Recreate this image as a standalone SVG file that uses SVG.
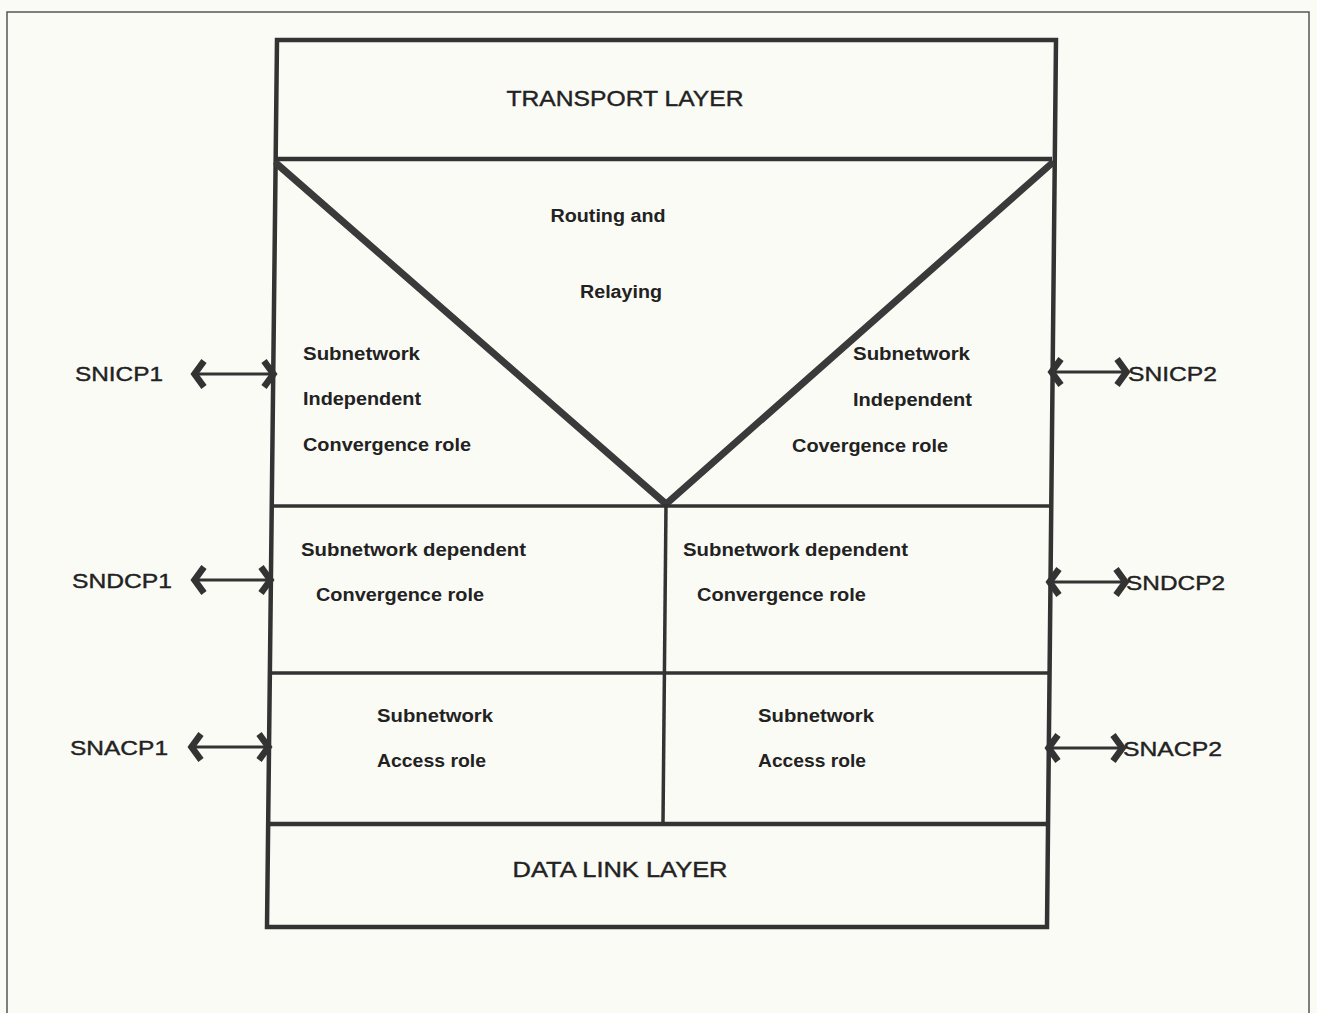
<svg xmlns="http://www.w3.org/2000/svg" width="1317" height="1013" viewBox="0 0 1317 1013">
  <style>
    .frame { fill: none; stroke: #555; stroke-width: 1.5; }
    .box { fill: none; stroke: #333; stroke-width: 4.5; stroke-linejoin: miter; }
    .div { fill: none; stroke: #333; stroke-width: 3.5; }
    .vee { fill: none; stroke: #3a3a3a; stroke-width: 7; stroke-linecap: round; }
    .conn { fill: none; stroke: #333; stroke-width: 3; }
    .ext { font-family: "Liberation Sans", Arial, sans-serif; font-size: 21px; fill: #222; stroke: #222; stroke-width: 0.4; }
    .lay { font-family: "Liberation Sans", Arial, sans-serif; font-size: 22px; fill: #222; stroke: #222; stroke-width: 0.4; }
    .role { font-family: "Liberation Sans", Arial, sans-serif; font-size: 18px; font-weight: bold; fill: #222; }
  </style>
  <defs>
    <!-- thick chevron head used at both ends of each access-point connector -->
    <marker id="chev" viewBox="-18 -16 22 32" markerWidth="22" markerHeight="32" refX="0" refY="0" markerUnits="userSpaceOnUse" orient="auto-start-reverse">
      <path d="M-11,-13 L-1.5,0 L-11,13" fill="none" stroke="#333" stroke-width="6.5" stroke-linejoin="miter"/>
    </marker>
  </defs>

  <rect x="0" y="0" width="1317" height="1013" fill="#fbfbf6"/>

  <!-- page frame -->
  <path class="frame" d="M7,1013 L7,12 L1309,12 L1309,1013"/>

  <!-- stack outline -->
  <g id="stack">
    <path class="box" d="M277,40 L1056,40 L1047,927 L267,927 Z"/>
  </g>

  <g id="transport-layer">
    <line class="box" x1="274" y1="159" x2="1052" y2="159"/>
    <text class="lay" x="625" y="106" text-anchor="middle" textLength="237" lengthAdjust="spacingAndGlyphs">TRANSPORT LAYER</text>
  </g>

  <g id="routing-relaying">
    <path class="vee" d="M277,164 L666,504 L1051,164"/>
    <text class="role" x="608" y="222" text-anchor="middle" textLength="115" lengthAdjust="spacingAndGlyphs">Routing and</text>
    <text class="role" x="621" y="298" text-anchor="middle" textLength="82" lengthAdjust="spacingAndGlyphs">Relaying</text>
  </g>

  <g id="snic-role-1">
    <text class="role" x="303" y="360" textLength="117" lengthAdjust="spacingAndGlyphs">Subnetwork</text>
    <text class="role" x="303" y="405" textLength="118" lengthAdjust="spacingAndGlyphs">Independent</text>
    <text class="role" x="303" y="451" textLength="168" lengthAdjust="spacingAndGlyphs">Convergence role</text>
  </g>

  <g id="snic-role-2">
    <text class="role" x="853" y="360" textLength="117" lengthAdjust="spacingAndGlyphs">Subnetwork</text>
    <text class="role" x="853" y="406" textLength="119" lengthAdjust="spacingAndGlyphs">Independent</text>
    <text class="role" x="792" y="452" textLength="156" lengthAdjust="spacingAndGlyphs">Covergence role</text>
  </g>

  <g id="dividers">
    <line class="div" x1="272" y1="506" x2="1049" y2="506"/>
    <line class="div" x1="666" y1="504" x2="663" y2="823"/>
    <line class="div" x1="270" y1="673" x2="1048" y2="673"/>
    <line class="box" x1="268" y1="824" x2="1048" y2="824"/>
  </g>

  <g id="sndc-role-1">
    <text class="role" x="301" y="556" textLength="225" lengthAdjust="spacingAndGlyphs">Subnetwork dependent</text>
    <text class="role" x="316" y="601" textLength="168" lengthAdjust="spacingAndGlyphs">Convergence role</text>
  </g>

  <g id="sndc-role-2">
    <text class="role" x="683" y="556" textLength="225" lengthAdjust="spacingAndGlyphs">Subnetwork dependent</text>
    <text class="role" x="697" y="601" textLength="169" lengthAdjust="spacingAndGlyphs">Convergence role</text>
  </g>

  <g id="sna-role-1">
    <text class="role" x="377" y="722" textLength="116" lengthAdjust="spacingAndGlyphs">Subnetwork</text>
    <text class="role" x="377" y="767" textLength="109" lengthAdjust="spacingAndGlyphs">Access role</text>
  </g>

  <g id="sna-role-2">
    <text class="role" x="758" y="722" textLength="116" lengthAdjust="spacingAndGlyphs">Subnetwork</text>
    <text class="role" x="758" y="767" textLength="108" lengthAdjust="spacingAndGlyphs">Access role</text>
  </g>

  <g id="data-link-layer">
    <text class="lay" x="620" y="877" text-anchor="middle" textLength="215" lengthAdjust="spacingAndGlyphs">DATA LINK LAYER</text>
  </g>

  <!-- service access points -->
  <g id="snicp1"><text class="ext" x="75" y="381" textLength="88" lengthAdjust="spacingAndGlyphs">SNICP1</text></g>
  <g id="sndcp1"><text class="ext" x="72" y="588" textLength="100" lengthAdjust="spacingAndGlyphs">SNDCP1</text></g>
  <g id="snacp1"><text class="ext" x="70" y="755" textLength="98" lengthAdjust="spacingAndGlyphs">SNACP1</text></g>
  <g id="snicp2"><text class="ext" x="1128" y="381" textLength="89" lengthAdjust="spacingAndGlyphs">SNICP2</text></g>
  <g id="sndcp2"><text class="ext" x="1126" y="590" textLength="99" lengthAdjust="spacingAndGlyphs">SNDCP2</text></g>
  <g id="snacp2"><text class="ext" x="1123" y="756" textLength="99" lengthAdjust="spacingAndGlyphs">SNACP2</text></g>

  <g id="connectors">
    <line class="conn" x1="193" y1="374" x2="275" y2="374" marker-start="url(#chev)" marker-end="url(#chev)"/>
    <line class="conn" x1="193" y1="580" x2="272" y2="580" marker-start="url(#chev)" marker-end="url(#chev)"/>
    <line class="conn" x1="190" y1="747" x2="270" y2="747" marker-start="url(#chev)" marker-end="url(#chev)"/>
    <line class="conn" x1="1050" y1="372" x2="1128" y2="372" marker-start="url(#chev)" marker-end="url(#chev)"/>
    <line class="conn" x1="1048" y1="582" x2="1127" y2="582" marker-start="url(#chev)" marker-end="url(#chev)"/>
    <line class="conn" x1="1047" y1="748" x2="1124" y2="748" marker-start="url(#chev)" marker-end="url(#chev)"/>
  </g>
</svg>
